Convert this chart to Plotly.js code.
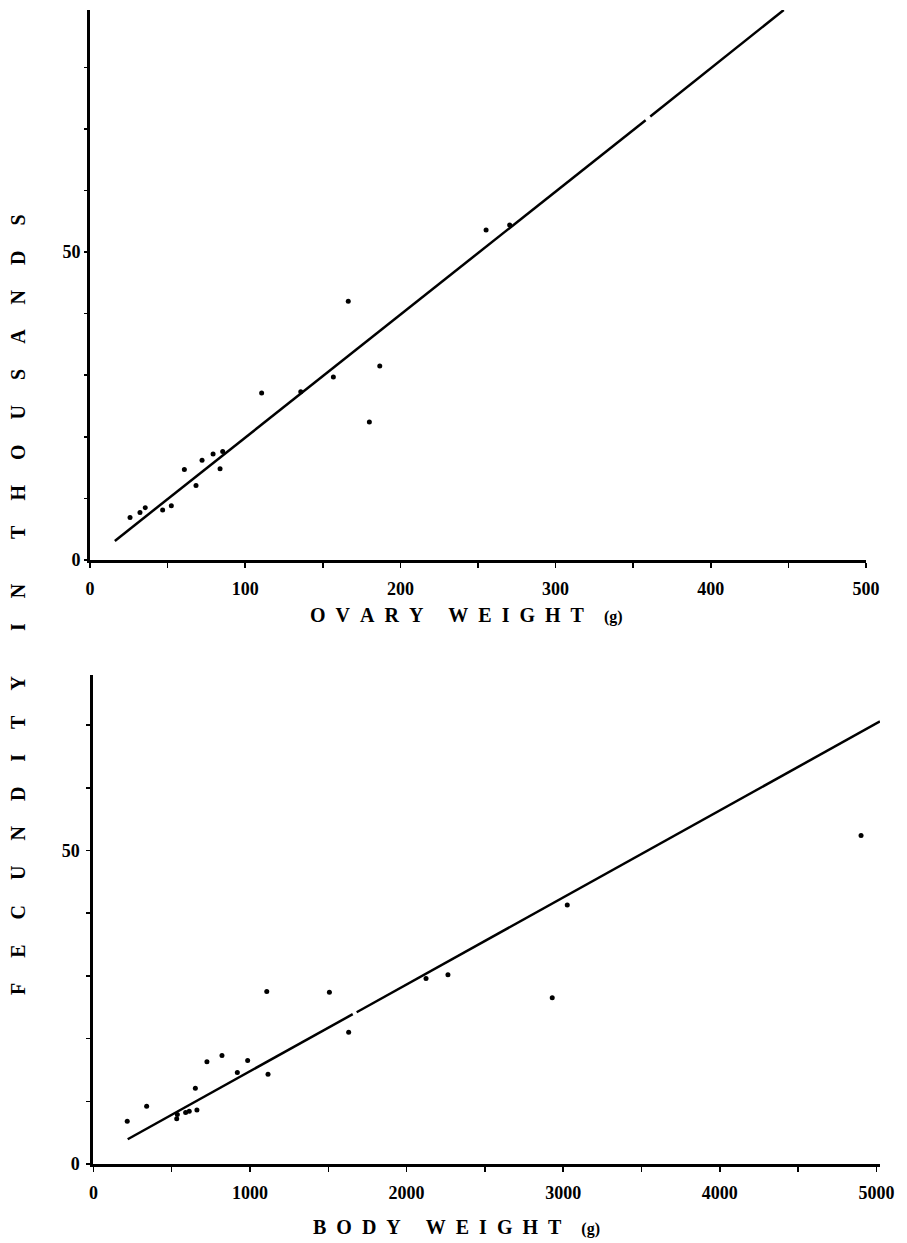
<!DOCTYPE html>
<html>
<head>
<meta charset="utf-8">
<script src="https://cdn.plot.ly/plotly-3.0.1.min.js"></script>
<style>
  html, body { margin: 0; padding: 0; background: #fff; }
  #chart { width: 907px; height: 1243px; }
</style>
</head>
<body>
<div id="chart"></div>
<script>
// ---- Top panel: fecundity (thousands) vs ovary weight (g)
const ovaryWeight   = [25.8, 32.2, 35.6, 46.8, 52.4, 60.8, 68.3, 72.2, 79.3, 83.8, 85.5, 110.6, 135.8, 156.8, 166.4, 180.0, 186.7, 255.2, 270.4];
const fecundityOW   = [6.9, 7.7, 8.5, 8.1, 8.8, 14.7, 12.1, 16.2, 17.2, 14.8, 17.6, 27.1, 27.3, 29.7, 42.0, 22.4, 31.5, 53.6, 54.4];
const fitOWx        = [16, 358, null, 361, 447];
const fitOWy        = [3.1, 71.4, null, 72.0, 89.3];

// ---- Bottom panel: fecundity (thousands) vs body weight (g)
const bodyWeight    = [216, 340, 532, 536, 589, 612, 661, 651, 725, 821, 919, 985, 1107, 1115, 1507, 1630, 2124, 2264, 2930, 3026, 4902];
const fecundityBW   = [6.8, 9.2, 7.2, 7.9, 8.2, 8.4, 8.6, 12.1, 16.3, 17.3, 14.6, 16.5, 27.5, 14.3, 27.4, 21.0, 29.6, 30.2, 26.5, 41.3, 52.4];
const fitBWx        = [219, 1656, null, 1681, 5023];
const fitBWy        = [3.95, 23.9, null, 24.2, 70.6];

// ---- Tick labels
const owTickVals = [0, 50, 100, 150, 200, 250, 300, 350, 400, 450, 500];
const owTickText = ['0', '', '100', '', '200', '', '300', '', '400', '', '500'];
const bwTickVals = [0, 500, 1000, 1500, 2000, 2500, 3000, 3500, 4000, 4500, 5000];
const bwTickText = ['0', '', '1000', '', '2000', '', '3000', '', '4000', '', '5000'];
const fTickValsTop = [0, 10, 20, 30, 40, 50, 60, 70, 80];
const fTickTextTop = ['0', '', '', '', '', '50', '', '', ''];
const fTickValsBot = [0, 10, 20, 30, 40, 50, 60, 70];
const fTickTextBot = ['0', '', '', '', '', '50', '', ''];

const W = 907, H = 1243;
const NB = '\u00A0';
function spaced(word, n) { return word.split('').join(NB.repeat(n)); }

const serif = 'Liberation Serif';
const tickFont = { family: serif, size: 18, color: '#000', weight: 'bold' };

const markerStyle = { color: '#000', size: 5 };
const lineStyle = { color: '#000', width: 2.5 };

const traces = [
  { x: ovaryWeight, y: fecundityOW, mode: 'markers', type: 'scatter', marker: markerStyle, xaxis: 'x', yaxis: 'y', hoverinfo: 'x+y' },
  { x: fitOWx, y: fitOWy, mode: 'lines', type: 'scatter', line: lineStyle, xaxis: 'x', yaxis: 'y', connectgaps: false, hoverinfo: 'skip' },
  { x: bodyWeight, y: fecundityBW, mode: 'markers', type: 'scatter', marker: markerStyle, xaxis: 'x2', yaxis: 'y2', hoverinfo: 'x+y' },
  { x: fitBWx, y: fitBWy, mode: 'lines', type: 'scatter', line: lineStyle, xaxis: 'x2', yaxis: 'y2', connectgaps: false, hoverinfo: 'skip' }
];

function axisBase(extra) {
  return Object.assign({
    showline: true, linecolor: '#000', linewidth: 2.5, mirror: false,
    showgrid: false, zeroline: false,
    ticks: 'outside', ticklen: 5, tickwidth: 1.5, tickcolor: '#000',
    tickmode: 'array', tickfont: tickFont, fixedrange: true
  }, extra);
}

const layout = {
  width: W, height: H,
  margin: { l: 0, r: 0, t: 0, b: 0 },
  paper_bgcolor: '#fff', plot_bgcolor: '#fff',
  showlegend: false,
  xaxis: axisBase({ domain: [90 / W, 866 / W], range: [0, 500], anchor: 'y',
    tickvals: owTickVals, ticktext: owTickText, ticklabelstandoff: 6 }),
  yaxis: axisBase({ domain: [1 - 560 / H, 1 - 10 / H], range: [0, 89.3], anchor: 'x',
    tickvals: fTickValsTop, ticktext: fTickTextTop, ticklen: 3, linewidth: 3, ticklabelstandoff: 0 }),
  xaxis2: axisBase({ domain: [93.4 / W, 880 / W], range: [0, 5023], anchor: 'y2',
    tickvals: bwTickVals, ticktext: bwTickText, ticklabelstandoff: 6 }),
  yaxis2: axisBase({ domain: [1 - 1164 / H, 1 - 675 / H], range: [0, 78], anchor: 'x2',
    tickvals: fTickValsBot, ticktext: fTickTextBot, ticklen: 4, linewidth: 3, ticklabelstandoff: 3 }),
  annotations: [
    {
      xref: 'paper', yref: 'paper', x: 18 / W, y: 1 - 605 / H,
      xanchor: 'center', yanchor: 'middle', textangle: -90, showarrow: false,
      text: spaced('FECUNDITY', 5) + NB.repeat(9) + spaced('IN', 5) + NB.repeat(9) + spaced('THOUSANDS', 5),
      font: { family: serif, size: 20, color: '#000', weight: 'bold' }
    },
    {
      xref: 'paper', yref: 'paper', x: 466 / W, y: 1 - 615 / H,
      xanchor: 'center', yanchor: 'middle', showarrow: false,
      text: spaced('OVARY', 2) + NB.repeat(5) + spaced('WEIGHT', 2) + NB.repeat(4) + '<span style="font-size:16px">(g)</span>',
      font: { family: serif, size: 20, color: '#000', weight: 'bold' }
    },
    {
      xref: 'paper', yref: 'paper', x: 456 / W, y: 1 - 1227 / H,
      xanchor: 'center', yanchor: 'middle', showarrow: false,
      text: spaced('BODY', 2) + NB.repeat(5) + spaced('WEIGHT', 2) + NB.repeat(4) + '<span style="font-size:16px">(g)</span>',
      font: { family: serif, size: 20, color: '#000', weight: 'bold' }
    }
  ]
};

Plotly.newPlot('chart', traces, layout, { displayModeBar: false, staticPlot: true });
</script>
</body>
</html>
